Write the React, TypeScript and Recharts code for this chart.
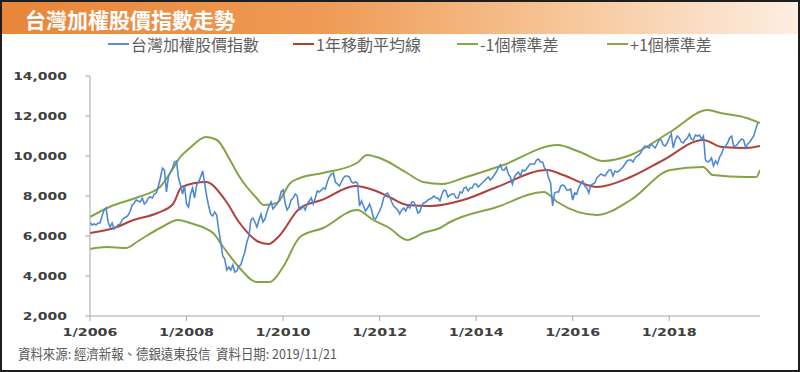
import React from 'react'
import { LineChart, Line, XAxis, YAxis } from 'recharts'

// semi-monthly index readings, one array per year (2019 ends 11/21)
const idx2006 = [6700, 6550, 6600, 6550, 6650, 6650, 7000, 7300, 7400, 6700, 6450, 6650, 6350, 6450, 6550, 6600, 6800, 6900, 6950, 7050, 7250, 7550, 7650, 7800]
const idx2007 = [7750, 7700, 7900, 7600, 7700, 7900, 7950, 7900, 8100, 8150, 8500, 8900, 9400, 9300, 8200, 8950, 9200, 9400, 9700, 9750, 8900, 8550, 8100, 8500]
const idx2008 = [7600, 7450, 8100, 8400, 7900, 8550, 8700, 8950, 9250, 8650, 8000, 7500, 7100, 7000, 7200, 7050, 6300, 5700, 5000, 4850, 4300, 4450, 4300, 4550]
const idx2009 = [4200, 4250, 4500, 4550, 4900, 5200, 5700, 6000, 6800, 6900, 6700, 6450, 6800, 7100, 6700, 6850, 7200, 7500, 7700, 7350, 7500, 7600, 7800, 8200]
const idx2010 = [8300, 7650, 7300, 7450, 7800, 7900, 8100, 8000, 7300, 7350, 7500, 7300, 7600, 7750, 7900, 7600, 7900, 8250, 8200, 8300, 8400, 8350, 8700, 8950]
const idx2011 = [9100, 9150, 8700, 8600, 8500, 8700, 8900, 9000, 9000, 8950, 8700, 8650, 8700, 8650, 7500, 7750, 7500, 7250, 7400, 7600, 7300, 6900, 6850, 7050]
const idx2012 = [7250, 7500, 7900, 8100, 8150, 7950, 7700, 7500, 7400, 7300, 7100, 7300, 7400, 7250, 7500, 7400, 7700, 7700, 7500, 7150, 7200, 7550, 7650, 7700]
const idx2013 = [7800, 7850, 7900, 8000, 7900, 7900, 7750, 8100, 8300, 8250, 7950, 8050, 8100, 8100, 7900, 7900, 8200, 8150, 8400, 8450, 8250, 8400, 8400, 8600]
const idx2014 = [8600, 8450, 8550, 8650, 8750, 8850, 8950, 8800, 8900, 9050, 9200, 9400, 9550, 9300, 9300, 9450, 9100, 8950, 8600, 8950, 9100, 9200, 9000, 9300]
const idx2015 = [9250, 9350, 9500, 9600, 9600, 9600, 9800, 9850, 9700, 9700, 9400, 9300, 8900, 8650, 7500, 8150, 8200, 8200, 8500, 8550, 8500, 8300, 8300, 8350]
const idx2016 = [7800, 8150, 8100, 8400, 8600, 8750, 8500, 8400, 8150, 8550, 8600, 8650, 8900, 9000, 9100, 9050, 9000, 9150, 9300, 9300, 9000, 9250, 9200, 9250]
const idx2017 = [9350, 9450, 9600, 9750, 9800, 9800, 9700, 9900, 10000, 10050, 10200, 10400, 10500, 10450, 10400, 10600, 10500, 10400, 10600, 10800, 10800, 10550, 10500, 10650]
const idx2018 = [10900, 11100, 10400, 10800, 11000, 10900, 10700, 10650, 10800, 10900, 11100, 10850, 10800, 11050, 11000, 11050, 10850, 11000, 9800, 9700, 9750, 9900, 9500, 9750]
const idx2019 = [9600, 9950, 10100, 10400, 10500, 10650, 10900, 11000, 10500, 10500, 10600, 10750, 10850, 10800, 10400, 10600, 10700, 10850, 11000, 11350, 11650]

// 1-year moving average
const maT = [2006.0, 2006.5, 2006.9, 2007.4, 2007.72, 2007.9, 2008.4, 2008.8, 2009.1, 2009.5, 2009.7, 2009.9, 2010.35, 2010.8, 2011.5, 2011.87, 2012.2, 2012.57, 2013.05, 2013.73, 2014.43, 2015.47, 2015.8, 2016.5, 2017.2, 2017.88, 2018.7, 2019.1, 2019.6, 2019.88]
const maV = [6150, 6400, 6800, 7150, 7600, 8450, 8700, 7800, 6650, 5700, 5600, 5950, 7400, 7800, 8500, 8300, 7950, 7550, 7500, 7800, 8450, 9300, 9050, 8450, 8950, 9800, 10800, 10450, 10400, 10500]

// +1 std dev
const upT = [2006.0, 2006.4, 2007.0, 2007.45, 2007.7, 2007.87, 2008.07, 2008.4, 2008.63, 2008.9, 2009.1, 2009.45, 2009.6, 2009.87, 2010.15, 2010.35, 2010.83, 2011.53, 2011.74, 2012.0, 2012.57, 2012.9, 2013.3, 2013.73, 2014.56, 2015.68, 2016.15, 2016.63, 2017.2, 2018.02, 2018.8, 2019.06, 2019.6, 2019.88]
const upV = [6950, 7450, 7950, 8450, 9300, 9950, 10400, 10950, 10800, 9800, 8950, 7900, 7550, 7650, 8650, 8900, 9150, 9650, 10050, 9900, 9150, 8700, 8600, 8900, 9550, 10550, 10200, 9750, 10050, 11200, 12300, 12150, 11900, 11650]

// -1 std dev
const loT = [2006.0, 2006.35, 2006.75, 2007.0, 2007.45, 2007.83, 2008.07, 2008.55, 2008.76, 2009.1, 2009.45, 2009.73, 2010.0, 2010.35, 2010.83, 2011.53, 2011.87, 2012.2, 2012.57, 2012.9, 2013.25, 2013.46, 2014.43, 2015.4, 2015.68, 2016.5, 2017.2, 2018.02, 2018.7, 2018.9, 2019.6, 2019.8, 2019.88]
const loV = [5350, 5450, 5400, 5750, 6400, 6800, 6650, 6150, 5450, 4400, 3700, 3700, 4450, 5950, 6400, 7300, 6800, 6400, 5800, 6150, 6400, 6700, 7450, 8200, 7700, 7050, 7800, 9300, 9450, 9050, 8950, 8950, 9300]

const yTicks = [2000, 4000, 6000, 8000, 10000, 12000, 14000]
const xTicks = [2006, 2008, 2010, 2012, 2014, 2016, 2018]

const legendItems = [
  { label: '台灣加權股價指數', color: '#5b8fcc', left: 108 },
  { label: '1年移動平均線', color: '#b0403b', left: 293 },
  { label: '-1個標準差', color: '#8aa64a', left: 457 },
  { label: '+1個標準差', color: '#8aa64a', left: 607 },
]

const indexValues = [idx2006, idx2007, idx2008, idx2009, idx2010, idx2011, idx2012, idx2013, idx2014, idx2015, idx2016, idx2017, idx2018, idx2019].flat()
const indexData = indexValues.map((v, i) => ({ t: 2006 + i / 24, v }))
const maData = maT.map((t, i) => ({ t, v: maV[i] }))
const upData = upT.map((t, i) => ({ t, v: upV[i] }))
const loData = loT.map((t, i) => ({ t, v: loV[i] }))

const YTick = ({ x, y, payload }: any) => (
  <text transform={`translate(${x},${y}) scale(1.27,1)`} textAnchor="end" dy={4} fontSize={11} fontWeight="bold" fill="#404040" fontFamily="DejaVu Sans">
    {payload.value.toLocaleString('en-US')}
  </text>
)

const XTick = ({ x, y, payload }: any) => (
  <text transform={`translate(${x},${y}) scale(1.3,1)`} textAnchor="middle" dy={11} fontSize={11} fontWeight="bold" fill="#404040" fontFamily="DejaVu Sans">
    {`1/${payload.value}`}
  </text>
)

const cjk = '"Noto Sans CJK TC", "Noto Sans CJK SC", sans-serif'

export default function App() {
  return (
    <div style={{ position: 'absolute', left: 0, top: 0, width: 800, height: 372, background: '#fff', overflow: 'hidden' }}>
      {/* title bar */}
      <div
        style={{
          position: 'absolute', left: 2, top: 2, width: 796, height: 32,
          background: 'linear-gradient(to right, #e8863a 0%, #ee9a55 40%, #f7c596 70%, #fdeee2 100%)',
        }}
      />
      <div style={{ position: 'absolute', left: 25, top: 5, fontFamily: cjk, fontWeight: 'bold', fontSize: 21, color: '#fff', lineHeight: '28px' }}>
        台灣加權股價指數走勢
      </div>

      {/* legend */}
      {legendItems.map((it) => (
        <div key={it.label} style={{ position: 'absolute', left: it.left, top: 34, height: 20, display: 'flex', alignItems: 'center', fontFamily: cjk, fontSize: 16, color: '#5f5f5f' }}>
          <span style={{ display: 'inline-block', width: 21, height: 2, background: it.color, marginRight: 2 }} />
          <span>{it.label}</span>
        </div>
      ))}

      <div style={{ position: 'absolute', left: 0, top: 0 }}>
        <LineChart width={800} height={372} margin={{ top: 76, right: 40, left: 0, bottom: 0 }}>
          <XAxis
            type="number"
            dataKey="t"
            domain={[2006, 2019.88]}
            ticks={xTicks}
            allowDataOverflow
            height={56}
            stroke="#a6a6a6"
            tickSize={5}
            tickMargin={4}
            tick={<XTick />}
          />
          <YAxis
            type="number"
            dataKey="v"
            domain={[2000, 14000]}
            ticks={yTicks}
            width={90}
            stroke="#a6a6a6"
            tickSize={5}
            tickMargin={18}
            tick={<YTick />}
          />
          <Line data={upData} dataKey="v" type="monotone" stroke="#86a347" strokeWidth={2} dot={false} isAnimationActive={false} />
          <Line data={loData} dataKey="v" type="monotone" stroke="#86a347" strokeWidth={2} dot={false} isAnimationActive={false} />
          <Line data={maData} dataKey="v" type="monotone" stroke="#b0403b" strokeWidth={2} dot={false} isAnimationActive={false} />
          <Line data={indexData} dataKey="v" type="linear" stroke="#4f8ad0" strokeWidth={1.6} dot={false} isAnimationActive={false} />
        </LineChart>
      </div>

      {/* source footer */}
      <div style={{ position: 'absolute', left: 18, top: 343, fontFamily: cjk, fontSize: 13.5, color: '#595959', whiteSpace: 'pre', transform: 'scaleX(0.92)', transformOrigin: 'left top' }}>
        資料來源: 經濟新報、德銀遠東投信  資料日期: 2019/11/21
      </div>

      {/* frame */}
      <div style={{ position: 'absolute', left: 0, top: 0, width: 800, height: 372, boxSizing: 'border-box', border: '2px solid #1e1e1e', pointerEvents: 'none' }} />
    </div>
  )
}
